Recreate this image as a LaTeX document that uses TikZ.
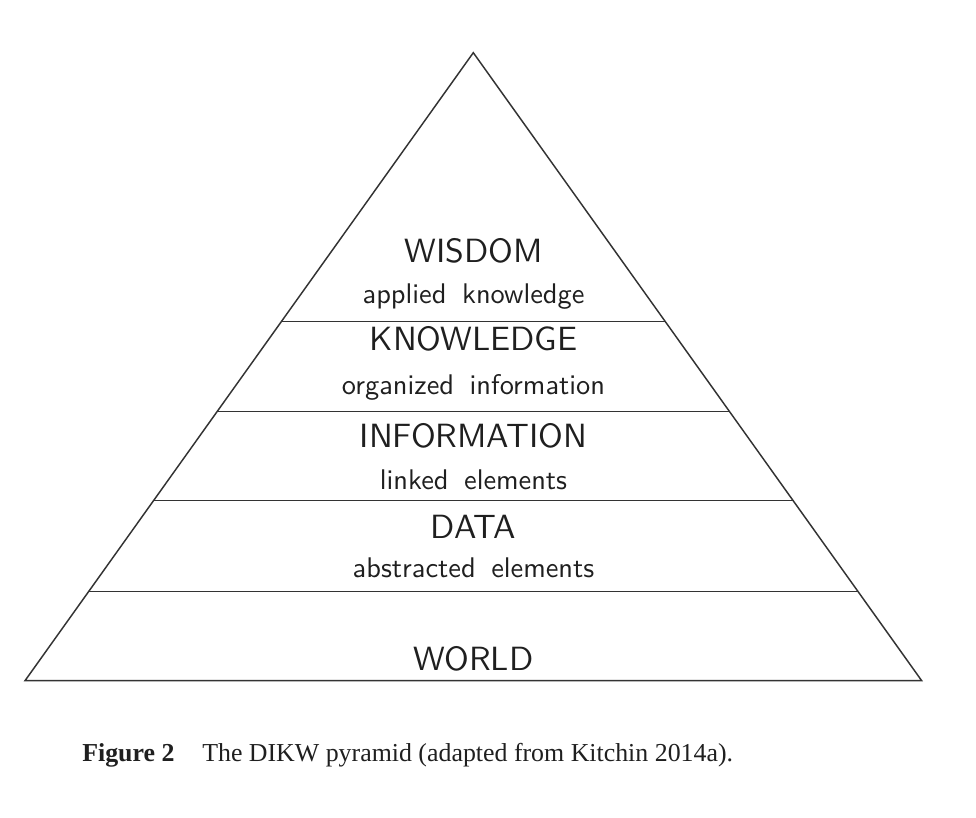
\documentclass[tikz,border=0pt]{standalone}
\usepackage{fontspec}
\newfontfamily\capfont{Liberation Serif}
\newfontfamily\lmsten{lmsans10-regular.otf}
\newcommand\widesp{\spaceskip=.55em\relax}
\usetikzlibrary{calc}
\begin{document}
\begin{tikzpicture}[x=0.75pt,y=-0.75pt,
  edge/.style={draw=black!80,line width=1.1pt,line join=miter},
  title/.style={anchor=base,inner sep=0pt,text=black!88,font=\lmsten\fontsize{25.2pt}{28pt}\selectfont},
  sub/.style={anchor=base,inner sep=0pt,text=black!88,font=\lmsten\fontsize{21.3pt}{24pt}\selectfont},
  captext/.style={anchor=base west,inner sep=0pt,text=black!88,font=\capfont\fontsize{19.4pt}{22pt}\selectfont}]
\useasboundingbox (0,0) rectangle (976,818);
\coordinate (A) at (473.3,52.7);
\coordinate (BL) at (25,680.7);
\coordinate (BR) at (921.7,680.7);
\draw[edge] (A) -- (BL) -- (BR) -- cycle;
\foreach \t/\n in {0.4283/1,0.5713/2,0.7134/3,0.8583/4}{
  \coordinate (L\n) at ($(A)!\t!(BL)$);
  \coordinate (R\n) at ($(A)!\t!(BR)$);
  \draw[edge] (L\n) -- (R\n);
}
\node[title] (wis) at (473.5,262) {WISDOM};
\node[sub] (wiss) at (473.5,303) {\widesp applied knowledge};
\node[title] (kno) at (473.5,350.5) {KNOWLEDGE};
\node[sub] (knos) at (473.5,394.5) {\widesp organized information};
\node[title] (inf) at (473.5,447) {INFORMATION};
\node[sub] (infs) at (473.5,489) {\widesp linked elements};
\node[title] (dat) at (473.5,538) {DATA};
\node[sub] (dats) at (473.5,577) {\widesp abstracted elements};
\node[title] (wor) at (473.5,670) {WORLD};
\node[captext] (fig) at (82,761.7) {\bfseries Figure 2};
\node[captext] (capt) at (202,761.7) {The DIKW pyramid (adapted from Kitchin 2014a).};
\end{tikzpicture}
\end{document}
